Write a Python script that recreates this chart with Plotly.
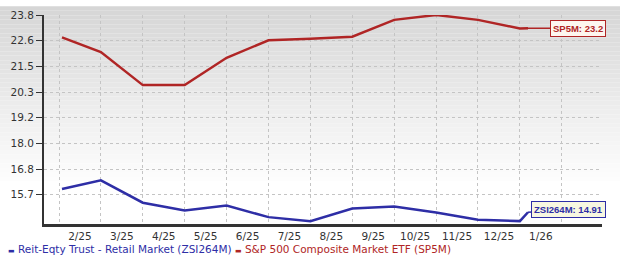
import calendar
import plotly.graph_objects as go

# ---- data ----
dates = ["2025-02-03", "2025-03-01", "2025-04-01", "2025-05-01", "2025-06-01",
         "2025-07-01", "2025-08-01", "2025-09-01", "2025-10-01", "2025-11-01",
         "2025-12-01", "2026-01-01", "2026-01-07"]
sp5m = [22.79, 22.13, 20.64, 20.64, 21.87, 22.66, 22.73, 22.82, 23.58, 23.80,
        23.58, 23.19, 23.2]
zsi264m = [15.96, 16.35, 15.34, 14.99, 15.21, 14.69, 14.51, 15.08, 15.17, 14.90,
           14.57, 14.51, 14.91]
month_labels = ["2/25", "3/25", "4/25", "5/25", "6/25", "7/25", "8/25", "9/25",
                "10/25", "11/25", "12/25", "1/26"]
y_tick_vals = [23.8, 22.643, 21.486, 20.329, 19.171, 18.014, 16.857, 15.7]
y_tick_text = ["23.8", "22.6", "21.5", "20.3", "19.2", "18.0", "16.8", "15.7"]
name_blue = "Reit-Eqty Trust - Retail Market (ZSI264M)"
name_red = "S&amp;P 500 Composite Market ETF (SP5M)"

BLUE = "#2e2ea6"
RED = "#b02525"


def month_pos(s):
    y, m, d = (int(v) for v in s.split("-"))
    return (y - 2025) * 12 + (m - 2) + (d - 1) / calendar.monthrange(y, m)[1]


xs = [month_pos(d) for d in dates]

fig = go.Figure()
fig.add_trace(go.Scatter(x=xs, y=zsi264m, mode="lines",
                         line=dict(color=BLUE, width=2.5), name="ZSI264M"))
fig.add_trace(go.Scatter(x=xs, y=sp5m, mode="lines",
                         line=dict(color=RED, width=2.5), name="SP5M"))

# gradient background (top gray -> white)
n = 40
top_px, white_px = 0, 185
for i in range(n):
    p0 = top_px + (white_px - top_px) * i / n
    p1 = top_px + (white_px - top_px) * (i + 1) / n
    t = i / (n - 1)
    c = int(214 + (255 - 214) * t)
    fig.add_shape(type="rect", xref="paper", yref="paper",
                  x0=-0.2, x1=1.2, y0=(224 - p1) / 215, y1=(224 - p0) / 215,
                  line=dict(width=0), fillcolor=f"rgb({c},{c},{c})", layer="below")

fig.update_layout(
    width=620, height=262,
    margin=dict(l=44, r=18, t=9, b=38),
    paper_bgcolor="white",
    plot_bgcolor="rgba(0,0,0,0)",
    showlegend=False,
    font=dict(family="DejaVu Sans", size=10.5, color="#333333"),
)
fig.update_xaxes(
    range=[-0.358, 12.96],
    tickvals=[i + 0.5 for i in range(len(month_labels))],
    ticktext=month_labels,
    ticks="", showgrid=False, zeroline=False,
    showline=True, linecolor="#333333", linewidth=3,
    tickfont=dict(size=10.5, color="#333333"),
    ticklabelstandoff=0,
    minor=dict(tickvals=list(range(0, 13)), showgrid=True,
               gridcolor="#c4c4c4", griddash="dot", gridwidth=1, ticks=""),
)
fig.update_yaxes(
    range=[14.38, 23.8],
    tickvals=y_tick_vals, ticktext=y_tick_text,
    ticks="outside", ticklen=6, tickcolor="#333333", tickwidth=1,
    showgrid=True, gridcolor="#c4c4c4", griddash="dot", gridwidth=1,
    zeroline=False, showline=True, linecolor="#333333", linewidth=2,
    tickfont=dict(size=10.5, color="#333333"),
)

# end-value labels
fig.add_annotation(x=xs[-1], y=sp5m[-1], text="<b>SP5M: 23.2</b>",
                   showarrow=True, arrowhead=0, arrowwidth=1.5, arrowcolor=RED,
                   ax=50, ay=0, standoff=0,
                   bgcolor="#fdf6ef", bordercolor=RED, borderwidth=1, borderpad=2,
                   font=dict(family="Liberation Sans", size=9.5, color=RED))
fig.add_annotation(x=xs[-1], y=zsi264m[-1], text="<b>ZSI264M: 14.91</b>",
                   showarrow=True, arrowhead=0, arrowwidth=1.5, arrowcolor=BLUE,
                   ax=41, ay=-3, standoff=0,
                   bgcolor="#f7f7e1", bordercolor=BLUE, borderwidth=1, borderpad=2,
                   font=dict(family="Liberation Sans", size=9.5, color=BLUE))

# legend line
dash = "<span style='font-size:7px'>▬</span>"
legend_text = (f"<span style='color:{BLUE}'>{dash} {name_blue}</span> "
               f"<span style='color:{RED}'>{dash} {name_red}</span>")
fig.add_annotation(xref="paper", yref="paper", x=(6 - 44) / 558, y=(224 - 250) / 215,
                   xanchor="left", yanchor="middle", showarrow=False,
                   text=legend_text, font=dict(family="DejaVu Sans", size=10.5))

fig.write_html("out.html")
